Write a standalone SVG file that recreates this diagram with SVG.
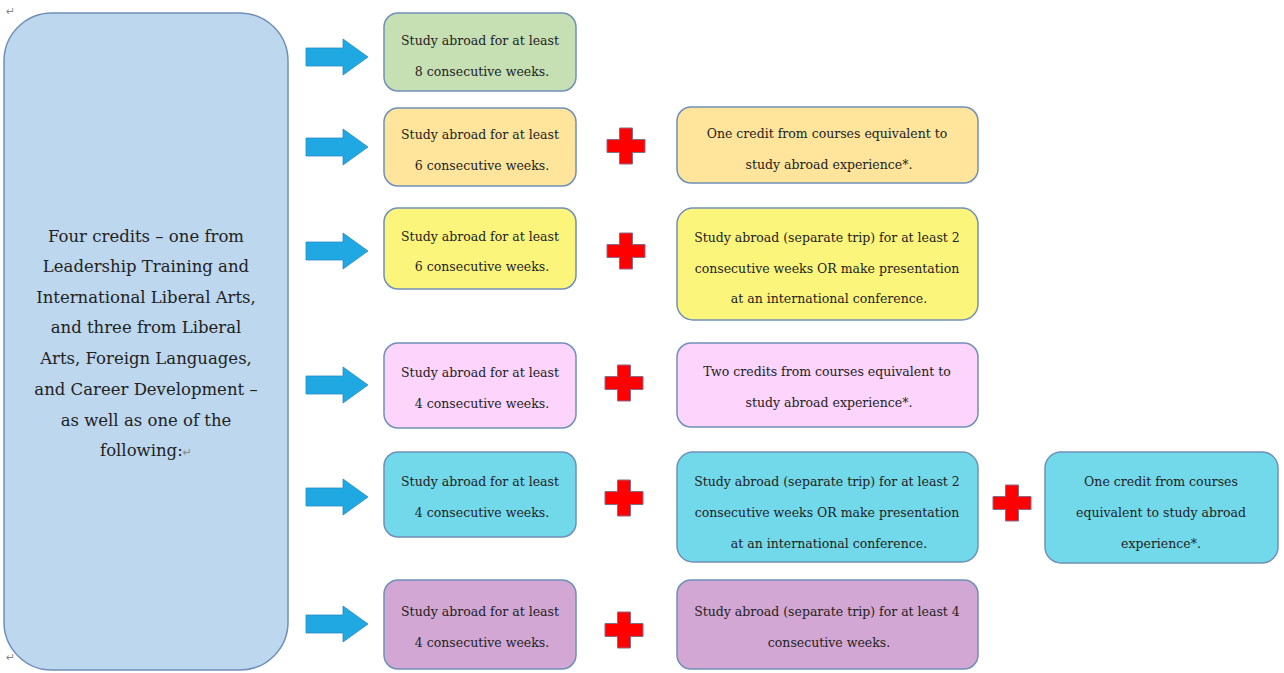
<svg xmlns="http://www.w3.org/2000/svg" width="1284" height="673" viewBox="0 0 1284 673">
<defs>
<style>
.bx{stroke:#7090b8;stroke-width:1.5}
.t{font-family:"DejaVu Serif","Liberation Serif",serif;font-size:12.5px;fill:#222;text-anchor:middle}
.big{font-family:"DejaVu Serif","Liberation Serif",serif;font-size:16.5px;fill:#222;text-anchor:middle}
.mk{font-family:"DejaVu Sans",sans-serif;font-size:11px;fill:#888}
.arrow{fill:#1fa8e2;stroke:#2a8cc4;stroke-width:0.8}
.plus{fill:#ff0000;stroke:#8a6a8a;stroke-width:1}
.green{fill:#c6e0b4}.orange{fill:#fee59b}.yellow{fill:#fcf57c}.pink{fill:#fcd4fc}.cyan{fill:#72d9ea}.purple{fill:#d3a7d3}
</style>
<path id="arr" d="M0,-9 H37 V-18 L62,0 L37,18 V9 H0 Z"/>
<path id="plus" d="M-6.5,-18 H6.5 V-6.5 H19 V6.5 H6.5 V18 H-6.5 V6.5 H-19 V-6.5 H-6.5 Z"/>
</defs>
<rect width="1284" height="673" fill="#ffffff"/>
<text class="mk" x="6" y="15">↵</text>
<text class="mk" x="6" y="661">↵</text>

<g id="main">
<rect class="bx" x="4" y="13" width="284" height="657" rx="48" fill="#bdd7ee"/>
<text class="big" x="146" y="242">Four credits – one from</text>
<text class="big" x="146" y="272">Leadership Training and</text>
<text class="big" x="146" y="303">International Liberal Arts,</text>
<text class="big" x="146" y="333">and three from Liberal</text>
<text class="big" x="146" y="364">Arts, Foreign Languages,</text>
<text class="big" x="146" y="395">and Career Development –</text>
<text class="big" x="146" y="426">as well as one of the</text>
<text class="big" x="146" y="456">following:<tspan class="mk" font-size="11">↵</tspan></text>
</g>

<g id="connectors">
<use href="#arr" class="arrow" x="306" y="57"/>
<use href="#arr" class="arrow" x="306" y="147"/>
<use href="#arr" class="arrow" x="306" y="251"/>
<use href="#arr" class="arrow" x="306" y="385"/>
<use href="#arr" class="arrow" x="306" y="497"/>
<use href="#arr" class="arrow" x="306" y="624"/>
<use href="#plus" class="plus" x="626" y="146"/>
<use href="#plus" class="plus" x="626" y="251"/>
<use href="#plus" class="plus" x="624" y="383"/>
<use href="#plus" class="plus" x="624" y="498"/>
<use href="#plus" class="plus" x="1012" y="503"/>
<use href="#plus" class="plus" x="624" y="630"/>
</g>

<g id="r1a">
<rect class="bx green" x="384" y="13" width="192" height="78" rx="14"/>
<text class="t" x="480" y="45">Study abroad for at least</text>
<text class="t" x="482" y="76">8 consecutive weeks.</text>
</g>

<g id="r2a">
<rect class="bx orange" x="384" y="108" width="192" height="78" rx="14"/>
<text class="t" x="480" y="139">Study abroad for at least</text>
<text class="t" x="482" y="170">6 consecutive weeks.</text>
</g>
<g id="r2b">
<rect class="bx orange" x="677" y="107" width="301" height="76" rx="14"/>
<text class="t" x="827" y="138">One credit from courses equivalent to</text>
<text class="t" x="829" y="169">study abroad experience*.</text>
</g>

<g id="r3a">
<rect class="bx yellow" x="384" y="208" width="192" height="81" rx="14"/>
<text class="t" x="480" y="241">Study abroad for at least</text>
<text class="t" x="482" y="271">6 consecutive weeks.</text>
</g>
<g id="r3b">
<rect class="bx yellow" x="677" y="208" width="301" height="112" rx="16"/>
<text class="t" x="827" y="242">Study abroad (separate trip) for at least 2</text>
<text class="t" x="827" y="273">consecutive weeks OR make presentation</text>
<text class="t" x="829" y="303">at an international conference.</text>
</g>

<g id="r4a">
<rect class="bx pink" x="384" y="343" width="192" height="85" rx="14"/>
<text class="t" x="480" y="377">Study abroad for at least</text>
<text class="t" x="482" y="408">4 consecutive weeks.</text>
</g>
<g id="r4b">
<rect class="bx pink" x="677" y="343" width="301" height="84" rx="14"/>
<text class="t" x="827" y="376">Two credits from courses equivalent to</text>
<text class="t" x="829" y="407">study abroad experience*.</text>
</g>

<g id="r5a">
<rect class="bx cyan" x="384" y="452" width="192" height="85" rx="14"/>
<text class="t" x="480" y="486">Study abroad for at least</text>
<text class="t" x="482" y="517">4 consecutive weeks.</text>
</g>
<g id="r5b">
<rect class="bx cyan" x="677" y="452" width="301" height="110" rx="16"/>
<text class="t" x="827" y="486">Study abroad (separate trip) for at least 2</text>
<text class="t" x="827" y="517">consecutive weeks OR make presentation</text>
<text class="t" x="829" y="548">at an international conference.</text>
</g>
<g id="r5c">
<rect class="bx cyan" x="1045" y="452" width="233" height="111" rx="16"/>
<text class="t" x="1161" y="486">One credit from courses</text>
<text class="t" x="1161" y="517">equivalent to study abroad</text>
<text class="t" x="1161" y="548">experience*.</text>
</g>

<g id="r6a">
<rect class="bx purple" x="384" y="580" width="192" height="89" rx="14"/>
<text class="t" x="480" y="616">Study abroad for at least</text>
<text class="t" x="482" y="647">4 consecutive weeks.</text>
</g>
<g id="r6b">
<rect class="bx purple" x="677" y="580" width="301" height="89" rx="14"/>
<text class="t" x="827" y="616">Study abroad (separate trip) for at least 4</text>
<text class="t" x="829" y="647">consecutive weeks.</text>
</g>
</svg>
